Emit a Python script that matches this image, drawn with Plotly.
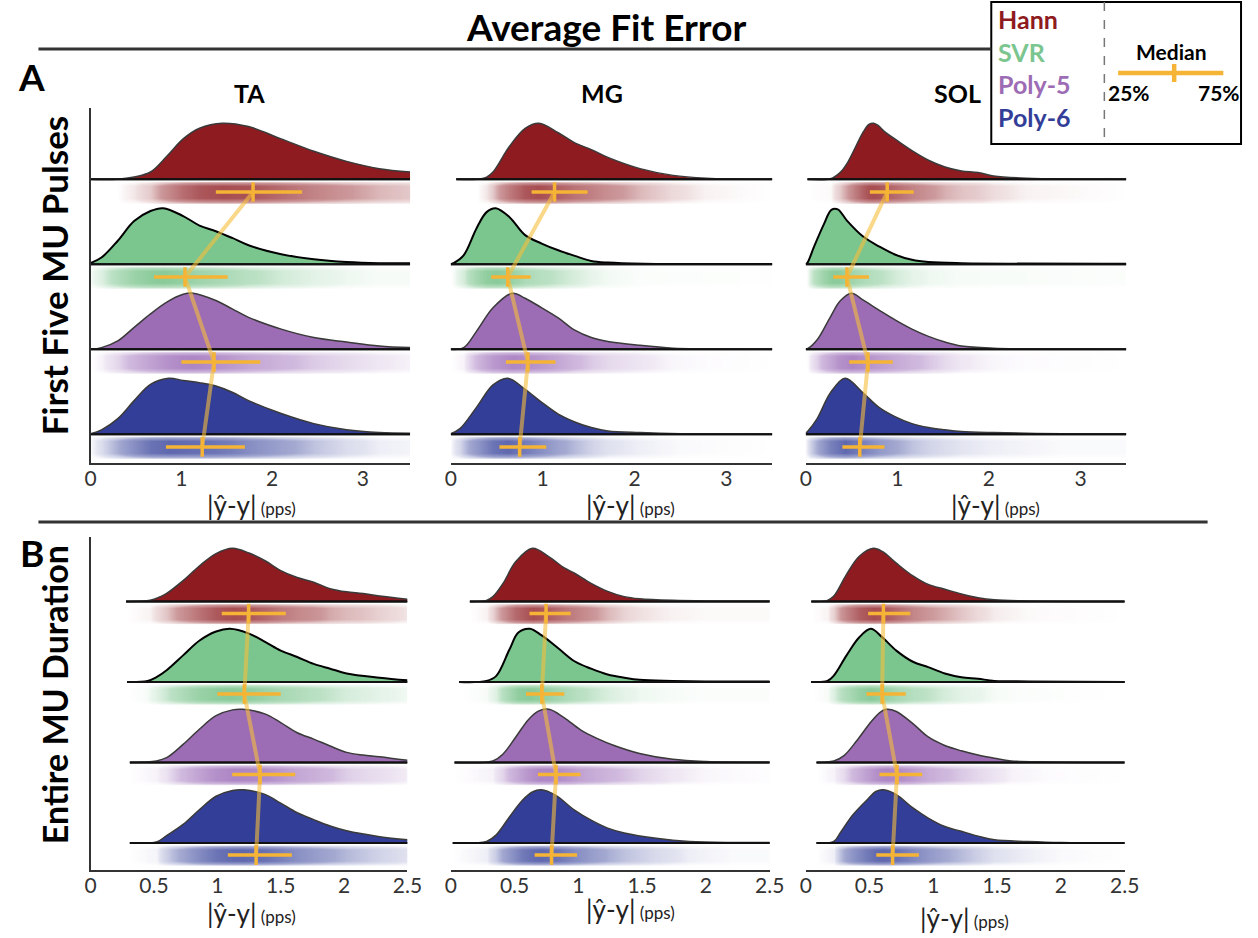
import plotly.graph_objects as go

W, H = 1258, 938

METHODS = ["Hann", "SVR", "Poly-5", "Poly-6"]
FILL = {"Hann": "#8E1B20", "SVR": "#7BC58F", "Poly-5": "#9C6CB4", "Poly-6": "#333E98"}
RGB = {"Hann": (142, 27, 32), "SVR": (105, 188, 125), "Poly-5": (150, 100, 180), "Poly-6": (50, 62, 152)}
OUTLINE = {"Hann": "#3a3a3a", "SVR": "#000000", "Poly-5": "#3a3a3a", "Poly-6": "#3a3a3a"}
ORANGE = "#F5B435"

# ---- ridge outlines: (x in pps, height relative to that ridge's peak) ----
ta_pulses = {
    "Hann": ([0, 0.29, 0.48, 0.66, 0.84, 1.02, 1.20, 1.45, 1.74, 2.10, 2.46, 2.82, 3.18, 3.52],
             [0, 0, 0.04, 0.13, 0.41, 0.72, 0.91, 1.0, 0.94, 0.72, 0.50, 0.32, 0.19, 0.13]),
    "SVR": ([0, 0.12, 0.30, 0.48, 0.66, 0.80, 1.02, 1.20, 1.38, 1.56, 1.74, 2.10, 2.46, 2.82, 3.18, 3.52],
            [0.02, 0.12, 0.42, 0.77, 0.95, 1.0, 0.86, 0.69, 0.59, 0.47, 0.34, 0.18, 0.09, 0.04, 0.02, 0.02]),
    "Poly-5": ([0, 0.12, 0.30, 0.48, 0.66, 0.84, 1.02, 1.13, 1.38, 1.56, 1.74, 2.10, 2.46, 2.82, 3.18, 3.52],
               [0, 0.03, 0.15, 0.39, 0.63, 0.84, 0.98, 1.0, 0.87, 0.72, 0.57, 0.36, 0.21, 0.13, 0.06, 0.03]),
    "Poly-6": ([0, 0.12, 0.30, 0.48, 0.66, 0.86, 1.02, 1.20, 1.38, 1.56, 1.74, 2.10, 2.46, 2.82, 3.18, 3.52],
               [0.01, 0.08, 0.28, 0.60, 0.89, 1.0, 0.96, 0.92, 0.86, 0.75, 0.60, 0.37, 0.19, 0.08, 0.03, 0.02]),
}
mg_pulses = {
    "Hann": ([0.06, 0.28, 0.39, 0.46, 0.64, 0.81, 0.96, 1.17, 1.35, 1.53, 1.71, 2.06, 2.42, 2.78, 3.5],
             [0, 0, 0.04, 0.13, 0.59, 0.91, 1.0, 0.83, 0.65, 0.53, 0.39, 0.19, 0.07, 0.02, 0]),
    "SVR": ([0, 0.03, 0.14, 0.28, 0.39, 0.49, 0.64, 0.81, 0.99, 1.17, 1.35, 1.53, 1.71, 2.1, 3.5],
            [0, 0.02, 0.16, 0.64, 0.93, 1.0, 0.84, 0.52, 0.37, 0.25, 0.15, 0.06, 0.03, 0.01, 0.005]),
    "Poly-5": ([0, 0.14, 0.28, 0.46, 0.67, 0.81, 0.99, 1.17, 1.35, 1.53, 1.71, 2.06, 2.42, 2.8, 3.5],
               [0, 0.03, 0.32, 0.74, 1.0, 0.91, 0.74, 0.56, 0.34, 0.21, 0.14, 0.07, 0.02, 0.01, 0]),
    "Poly-6": ([0, 0.10, 0.28, 0.46, 0.62, 0.81, 0.99, 1.17, 1.35, 1.53, 1.71, 2.06, 2.5, 3.5],
               [0.01, 0.10, 0.48, 0.88, 1.0, 0.80, 0.57, 0.36, 0.22, 0.12, 0.06, 0.03, 0.01, 0]),
}
sol_pulses = {
    "Hann": ([0.02, 0.27, 0.375, 0.45, 0.63, 0.69, 0.74, 0.79, 0.86, 0.98, 1.16, 1.34, 1.52, 1.70, 1.88, 2.05, 2.41, 3.5],
             [0, 0.01, 0.12, 0.28, 0.85, 0.98, 1.0, 0.96, 0.85, 0.71, 0.51, 0.34, 0.22, 0.15, 0.12, 0.06, 0.02, 0]),
    "SVR": ([0, 0.02, 0.09, 0.20, 0.28, 0.35, 0.45, 0.63, 0.81, 0.98, 1.16, 1.34, 1.70, 3.5],
            [0, 0.03, 0.31, 0.72, 0.97, 0.98, 0.78, 0.49, 0.31, 0.17, 0.08, 0.04, 0.02, 0.01]),
    "Poly-5": ([0, 0.02, 0.125, 0.27, 0.375, 0.50, 0.625, 0.80, 0.98, 1.16, 1.34, 1.52, 1.70, 2.05, 2.4, 3.5],
               [0, 0.01, 0.17, 0.58, 0.86, 1.0, 0.88, 0.70, 0.52, 0.36, 0.23, 0.13, 0.06, 0.02, 0.01, 0]),
    "Poly-6": ([0, 0.02, 0.125, 0.27, 0.43, 0.625, 0.80, 0.98, 1.16, 1.34, 1.52, 1.70, 2.05, 2.8, 3.5],
               [0.02, 0.05, 0.28, 0.74, 1.0, 0.74, 0.48, 0.31, 0.19, 0.12, 0.08, 0.05, 0.03, 0.01, 0.01]),
}
ta_duration = {
    "Hann": ([0.28, 0.47, 0.55, 0.60, 0.73, 0.86, 0.99, 1.12, 1.25, 1.38, 1.50, 1.63, 1.76, 1.89, 2.02, 2.15, 2.28, 2.5],
             [0, 0.02, 0.09, 0.15, 0.39, 0.67, 0.90, 1.0, 0.91, 0.76, 0.58, 0.45, 0.36, 0.24, 0.18, 0.15, 0.10, 0.04]),
    "SVR": ([0.29, 0.45, 0.52, 0.60, 0.73, 0.86, 0.99, 1.10, 1.25, 1.38, 1.50, 1.63, 1.76, 1.89, 2.02, 2.28, 2.5],
            [0, 0.02, 0.09, 0.22, 0.50, 0.78, 0.95, 1.0, 0.91, 0.75, 0.59, 0.47, 0.34, 0.25, 0.16, 0.08, 0.03]),
    "Poly-5": ([0.31, 0.52, 0.60, 0.73, 0.86, 0.99, 1.12, 1.20, 1.38, 1.50, 1.63, 1.76, 1.89, 2.02, 2.15, 2.28, 2.5],
               [0, 0.03, 0.09, 0.34, 0.63, 0.88, 0.99, 1.0, 0.91, 0.75, 0.56, 0.44, 0.31, 0.19, 0.14, 0.11, 0.04]),
    "Poly-6": ([0.31, 0.52, 0.60, 0.73, 0.86, 0.99, 1.12, 1.21, 1.38, 1.50, 1.63, 1.76, 1.89, 2.02, 2.28, 2.5],
               [0, 0.02, 0.14, 0.35, 0.63, 0.88, 0.99, 1.0, 0.91, 0.75, 0.57, 0.44, 0.32, 0.23, 0.12, 0.06]),
}
mg_duration = {
    "Hann": ([0.15, 0.28, 0.33, 0.41, 0.51, 0.64, 0.77, 0.89, 0.97, 1.10, 1.23, 1.36, 1.48, 1.74, 2.0, 2.5],
             [0, 0.02, 0.09, 0.34, 0.75, 1.0, 0.84, 0.63, 0.53, 0.34, 0.19, 0.09, 0.05, 0.02, 0.01, 0.01]),
    "SVR": ([0.067, 0.28, 0.355, 0.46, 0.53, 0.62, 0.71, 0.84, 0.97, 1.10, 1.23, 1.36, 1.48, 1.74, 2.0, 2.5],
            [0, 0.02, 0.11, 0.61, 0.93, 1.0, 0.88, 0.64, 0.39, 0.25, 0.14, 0.08, 0.04, 0.02, 0.01, 0.01]),
    "Poly-5": ([0.03, 0.33, 0.41, 0.51, 0.61, 0.69, 0.77, 0.89, 1.02, 1.15, 1.28, 1.48, 1.74, 2.0, 2.5],
               [0, 0.03, 0.16, 0.48, 0.81, 0.97, 1.0, 0.84, 0.61, 0.45, 0.32, 0.17, 0.06, 0.02, 0.005]),
    "Poly-6": ([0.016, 0.28, 0.355, 0.46, 0.56, 0.64, 0.71, 0.82, 0.97, 1.10, 1.23, 1.36, 1.61, 1.87, 2.2, 2.5],
               [0, 0.03, 0.15, 0.49, 0.80, 0.96, 1.0, 0.90, 0.62, 0.43, 0.28, 0.19, 0.09, 0.03, 0.01, 0.01]),
}
sol_duration = {
    "Hann": ([0.044, 0.17, 0.22, 0.32, 0.42, 0.53, 0.60, 0.71, 0.84, 0.96, 1.09, 1.22, 1.35, 1.48, 1.73, 2.5],
             [0, 0.02, 0.10, 0.51, 0.85, 1.0, 0.94, 0.72, 0.48, 0.32, 0.23, 0.14, 0.07, 0.03, 0.01, 0]),
    "SVR": ([0.044, 0.17, 0.22, 0.32, 0.42, 0.51, 0.60, 0.71, 0.84, 0.96, 1.09, 1.22, 1.35, 1.48, 1.75, 2.5],
            [0, 0.02, 0.12, 0.50, 0.84, 1.0, 0.84, 0.59, 0.38, 0.28, 0.16, 0.09, 0.06, 0.02, 0.01, 0]),
    "Poly-5": ([0.085, 0.22, 0.30, 0.40, 0.50, 0.58, 0.63, 0.71, 0.84, 0.96, 1.09, 1.22, 1.35, 1.48, 1.61, 1.9, 2.5],
               [0, 0.03, 0.13, 0.41, 0.73, 0.94, 1.0, 0.96, 0.73, 0.48, 0.32, 0.22, 0.14, 0.08, 0.03, 0.01, 0]),
    "Poly-6": ([0.085, 0.22, 0.27, 0.37, 0.48, 0.55, 0.61, 0.71, 0.84, 0.96, 1.09, 1.22, 1.35, 1.48, 1.74, 2.0, 2.5],
               [0, 0.03, 0.19, 0.53, 0.81, 0.97, 1.0, 0.91, 0.66, 0.47, 0.31, 0.22, 0.13, 0.06, 0.03, 0.01, 0]),
}

# ---- quartiles (Hann, SVR, Poly-5, Poly-6) ----
ta_pulses_q25 = [1.38, 0.70, 1.00, 0.83]
ta_pulses_med = [1.79, 1.04, 1.36, 1.23]
ta_pulses_q75 = [2.33, 1.51, 1.87, 1.70]
mg_pulses_q25 = [0.88, 0.44, 0.60, 0.53]
mg_pulses_med = [1.13, 0.62, 0.84, 0.75]
mg_pulses_q75 = [1.49, 0.87, 1.14, 1.04]
sol_pulses_q25 = [0.70, 0.30, 0.475, 0.40]
sol_pulses_med = [0.89, 0.45, 0.68, 0.59]
sol_pulses_q75 = [1.18, 0.69, 0.95, 0.86]
ta_duration_q25 = [1.035, 1.00, 1.117, 1.083]
ta_duration_med = [1.247, 1.213, 1.337, 1.306]
ta_duration_q75 = [1.54, 1.50, 1.614, 1.588]
mg_duration_q25 = [0.617, 0.59, 0.683, 0.657]
mg_duration_med = [0.747, 0.714, 0.825, 0.79]
mg_duration_q75 = [0.94, 0.89, 1.017, 0.99]
sol_duration_q25 = [0.489, 0.476, 0.578, 0.553]
sol_duration_med = [0.609, 0.599, 0.715, 0.681]
sol_duration_q75 = [0.82, 0.784, 0.913, 0.887]

ticks_pulses = [0, 1, 2, 3]
ticks_duration = [0, 0.5, 1, 1.5, 2, 2.5]
ticktext_pulses = ["0", "1", "2", "3"]
ticktext_duration = ["0", "0.5", "1", "1.5", "2", "2.5"]


def px(x):
    return x / W


def py(y):
    return 1 - y / H


# panel geometry in pixels: x-domain (left, right), x max, y-domain (top, bottom), y range
panels = [
    dict(dens=ta_pulses, q=(ta_pulses_q25, ta_pulses_med, ta_pulses_q75),
         xd=(86, 411), xmax=3.52, yd=(108, 462.5), yr=(-0.332, 3.839), tv=ticks_pulses, tt=ticktext_pulses, yline=True),
    dict(dens=mg_pulses, q=(mg_pulses_q25, mg_pulses_med, mg_pulses_q75),
         xd=(452.3, 779.3), xmax=3.5, yd=(108, 462.5), yr=(-0.332, 3.839), tv=ticks_pulses, tt=ticktext_pulses, yline=False),
    dict(dens=sol_pulses, q=(sol_pulses_q25, sol_pulses_med, sol_pulses_q75),
         xd=(813.3, 1139.3), xmax=3.5, yd=(108, 462.5), yr=(-0.332, 3.839), tv=ticks_pulses, tt=ticktext_pulses, yline=False),
    dict(dens=ta_duration, q=(ta_duration_q25, ta_duration_med, ta_duration_q75),
         xd=(86, 408.3), xmax=2.5, yd=(537, 870), yr=(-0.335, 3.80), tv=ticks_duration, tt=ticktext_duration, yline=True),
    dict(dens=mg_duration, q=(mg_duration_q25, mg_duration_med, mg_duration_q75),
         xd=(452.3, 776.7), xmax=2.5, yd=(537, 870), yr=(-0.335, 3.80), tv=ticks_duration, tt=ticktext_duration, yline=False),
    dict(dens=sol_duration, q=(sol_duration_q25, sol_duration_med, sol_duration_q75),
         xd=(813.3, 1137.7), xmax=2.5, yd=(537, 870), yr=(-0.335, 3.80), tv=ticks_duration, tt=ticktext_duration, yline=False),
]

PEAK = 0.66      # ridge height in slot units
STRIP = 0.15     # strip centre below each baseline

fig = go.Figure()
layout_axes = {}

for i, p in enumerate(panels):
    sfx = "" if i == 0 else str(i + 1)
    xa, ya = "x" + sfx, "y" + sfx
    layout_axes["xaxis" + sfx] = dict(
        domain=[px(p["xd"][0]), px(p["xd"][1])], range=[0, p["xmax"]], anchor=ya,
        showline=True, linecolor="#333", linewidth=2, ticks="", showgrid=False, zeroline=False,
        tickvals=p["tv"], ticktext=p["tt"], tickfont=dict(size=21, color="#333", family="Lato"),
        ticklabelstandoff=-4,
    )
    layout_axes["yaxis" + sfx] = dict(
        domain=[py(p["yd"][1]), py(p["yd"][0])], range=list(p["yr"]), anchor=xa,
        showline=p["yline"], linecolor="#333", linewidth=2, ticks="", showticklabels=False,
        showgrid=False, zeroline=False,
    )
    q25, med, q75 = p["q"]
    for k, m in enumerate(METHODS):
        xs, hs = p["dens"][m]
        base = 3 - k
        c = base - STRIP
        r, g, b = RGB[m]
        # jittered-point strip rendered as a soft density band
        fig.add_trace(go.Heatmap(
            x=xs, y=[c - 0.135, c - 0.07, c + 0.07, c + 0.135],
            z=[[0] * len(hs), hs, hs, [0] * len(hs)],
            zmin=0, zmax=1, zsmooth="best", showscale=False, hoverinfo="skip",
            colorscale=[[0, f"rgba({r},{g},{b},0)"], [0.05, f"rgba({r},{g},{b},0.14)"],
                        [0.3, f"rgba({r},{g},{b},0.45)"], [1, f"rgba({r},{g},{b},0.78)"]],
            xaxis=xa, yaxis=ya,
        ))
        fig.add_trace(go.Scatter(
            x=[xs[0], p["xmax"]], y=[base, base], mode="lines",
            line=dict(color="#111", width=2), xaxis=xa, yaxis=ya, showlegend=False, hoverinfo="skip",
        ))
        fig.add_trace(go.Scatter(
            x=xs, y=[base + PEAK * h for h in hs], mode="lines", fill="tonexty", fillcolor=FILL[m],
            line=dict(color=OUTLINE[m], width=2 if m == "SVR" else 1.5, shape="spline", smoothing=1.0),
            xaxis=xa, yaxis=ya, showlegend=False, hoverinfo="skip",
        ))
        fig.add_trace(go.Scatter(
            x=[xs[0], p["xmax"]], y=[base, base], mode="lines",
            line=dict(color="#111", width=2), xaxis=xa, yaxis=ya, showlegend=False, hoverinfo="skip",
        ))
    strip_y = [3 - k - STRIP for k in range(4)]
    fig.add_trace(go.Scatter(
        x=med, y=strip_y, mode="lines", line=dict(color="rgba(247,190,60,0.6)", width=4),
        xaxis=xa, yaxis=ya, showlegend=False, hoverinfo="skip",
    ))
    fig.add_trace(go.Scatter(
        x=med, y=strip_y, mode="markers",
        marker=dict(symbol="line-ns", size=14, color=ORANGE, line=dict(width=3.5, color=ORANGE)),
        error_x=dict(type="data", symmetric=False,
                     array=[b - a for a, b in zip(med, q75)],
                     arrayminus=[a - b for a, b in zip(med, q25)],
                     width=0, thickness=3.5, color=ORANGE),
        xaxis=xa, yaxis=ya, showlegend=False, hoverinfo="skip",
    ))

FONT = "Lato"
annotations = []


def text(x, y, s, size, color="black", xanchor="center", angle=0, height=None, align="center"):
    a = dict(
        x=px(x), y=py(y), xref="paper", yref="paper", text=s, showarrow=False,
        xanchor=xanchor, yanchor="middle", textangle=angle, align=align,
        font=dict(family=FONT, size=size, color=color),
    )
    if height is not None:
        a["height"] = height
    annotations.append(a)


text(610, 26, "<b>Average Fit Error</b>", 37)
text(26, 76, "<b>A</b>", 37)
text(26, 552, "<b>B</b>", 37)
text(248, 93, "<b>TA</b>", 25)
text(606, 93, "<b>MG</b>", 25)
text(968, 93, "<b>SOL</b>", 25)
text(49, 276, "<b>First Five MU Pulses</b>", 35, angle=-90)
text(49, 695, "<b>Entire MU Duration</b>", 34, angle=-90)

xlab = "|ŷ-y|<span style='font-size:17px'> (pps)</span>"
for (x, y) in [(250, 505), (635, 505), (1006, 505), (250, 913), (635, 909), (975, 918)]:
    text(x, y, xlab, 26, color="#222", height=30)

# legend box: method names stacked in one block
legend_names = "<br>".join(f"<span style='color:{FILL[m]}'><b>{m}</b></span>" for m in METHODS)
text(1007, 68, legend_names, 25, xanchor="left", align="left")
text(1185, 52, "<b>Median</b>", 21)
text(1142, 92, "<b>25%</b>", 21)
text(1234, 92, "<b>75%</b>", 21)

shapes = []


def line(x0, y0, x1, y1, color, width, dash="solid"):
    shapes.append(dict(type="line", xref="paper", yref="paper", x0=px(x0), y0=py(y0), x1=px(x1), y1=py(y1),
                       line=dict(color=color, width=width, dash=dash)))


line(33, 49, 1002, 49, "#333", 3)
line(33, 522, 1222, 522, "#333", 3)
shapes.append(dict(type="rect", xref="paper", yref="paper", x0=px(1002), y0=py(144), x1=px(1256), y1=py(2),
                   line=dict(color="black", width=2), fillcolor="white", layer="below"))
line(1117, 2, 1117, 144, "#777", 1.5, dash="dash")
line(1131, 73, 1238, 73, ORANGE, 4.5)
line(1188, 64, 1188, 82, ORANGE, 4.5)

fig.update_layout(
    width=W, height=H, margin=dict(l=0, r=0, t=0, b=0),
    paper_bgcolor="white", plot_bgcolor="rgba(0,0,0,0)",
    font=dict(family=FONT, color="#222"),
    showlegend=False, annotations=annotations, shapes=shapes,
    **layout_axes,
)

fig.write_html("out.html")
